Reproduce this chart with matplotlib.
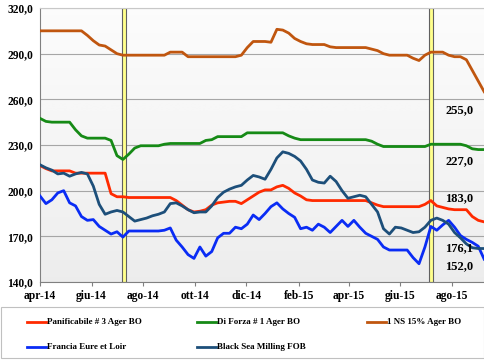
#!/usr/bin/env python
# -*- coding: utf-8 -*-

import numpy as np
import pandas as pd
import matplotlib
matplotlib.use('Agg')
import matplotlib.pyplot as plt
from matplotlib.lines import Line2D
from matplotlib.patches import Rectangle

# weekly quotes, Apr 2014 - Sep 2015 (euro/t)
dates = pd.date_range('2014-04-01', periods=76, freq='7D')

ns15 = [305, 305, 305, 305, 305, 305, 305, 305, 302, 298.5,
        295.7, 295, 292.5, 290, 289, 289, 289, 289, 289, 289,
        289, 289, 291, 291, 291, 288, 288, 288, 288, 288,
        288, 288, 288, 288, 289, 294, 298, 298, 298, 297.5,
        306, 305.5, 303.5, 300, 298, 296.5, 296, 296, 296, 294.5,
        294, 294, 294, 294, 294, 294, 293, 292, 290, 289,
        289, 289, 289, 287, 285.5, 289, 291, 291, 291, 289,
        288, 288, 286, 279, 272, 265]

forza = [247.5, 245.5, 245, 245, 245, 245, 240, 236, 234.5, 234.5,
         234.5, 234.5, 233, 223, 220.5, 224, 228, 229.5, 229.5, 229.5,
         229.5, 230.5, 231, 231, 231, 231, 231, 231, 233, 233.5,
         235.5, 235.5, 235.5, 235.5, 235.5, 238, 238, 238, 238, 238,
         238, 238, 236, 234.5, 233.5, 233.5, 233.5, 233.5, 233.5, 233.5,
         233.5, 233.5, 233.5, 233.5, 233.5, 233.5, 232.5, 230.5, 229, 229,
         229, 229, 229, 229, 229, 229, 230.5, 230.5, 230.5, 230.5,
         230.5, 230.5, 229.5, 227.5, 227, 227]

panif = [216.5, 214.5, 213, 213, 213, 213, 211.5, 211.5, 211.5, 211.5,
         211.5, 211.5, 198, 196, 196, 195.5, 195.5, 195.5, 195.5, 195.5,
         195.5, 195.5, 195.5, 193.5, 190.5, 187.5, 186, 186.5, 187.5, 190.5,
         192, 192.5, 193, 193, 191.5, 194, 196.5, 199, 200.5, 200.5,
         202.5, 203.5, 201.5, 198.5, 196.5, 194, 193.5, 193.5, 193.5, 193.5,
         193.5, 193.5, 193.5, 193.5, 193.5, 193.5, 192, 190.5, 189.5, 189.5,
         189.5, 189.5, 189.5, 189.5, 189.5, 191, 193.5, 190, 189, 188,
         187.5, 187.5, 187.5, 183, 180.5, 179.5]

francia = [196.5, 191.5, 194, 198.5, 200, 192, 190, 183, 180.5, 181,
           176.5, 174, 171.5, 173, 169.5, 173.5, 173.5, 173.5, 173.5, 173.5,
           173.5, 174, 175.5, 167.5, 163, 158, 155.5, 163, 157, 160,
           169, 172, 172, 176, 175, 178, 184, 181, 185, 189.5,
           192, 188, 185, 182.5, 175, 176, 174, 178, 176, 172.5,
           176.5, 180.5, 176.5, 180.5, 176, 172, 170, 168, 163, 161,
           161, 161, 161, 156, 152, 163, 176.5, 174, 177.5, 180.5,
           176, 170.5, 168, 166, 163.5, 155]

blacksea = [217, 215, 213.5, 211, 211.5, 209.5, 211, 212, 211, 203,
            191, 184.5, 186, 187, 186, 183, 180, 181, 182, 183.5,
            184.5, 186, 191.5, 192, 190, 187.5, 185.5, 186, 186, 190,
            195.5, 199, 201, 202.5, 203.5, 207, 210, 209, 207.5, 214,
            221.5, 225.5, 224.5, 222.5, 219.5, 214, 207, 205.5, 205, 209.5,
            206, 200, 195, 196, 197, 196, 191, 186, 175, 171.5,
            176, 175.5, 174, 172.5, 173, 176, 180.5, 182, 180.5, 178,
            172.5, 169, 165, 162.5, 162, 162]

names = ['Panificabile # 3 Ager BO', 'Di Forza # 1 Ager BO', '1 NS 15% Ager BO',
         'Francia Eure et Loir', 'Black Sea Milling FOB']
series = [panif, forza, ns15, francia, blacksea]
colors = ['#ff2a00', '#168a16', '#c0560f', '#0a2cf5', '#1d4f7a']

# harvest markers
harvest = pd.to_datetime(['2014-07-09', '2015-07-07'])

# last-value labels on the right
end_labels = ['255,0', '227,0', '183,0', '176,1', '152,0']
end_label_y = [253, 219.5, 195.3, 162.4, 150.6]

tick_dates = pd.date_range('2014-04-01', '2015-08-01', freq='2MS')
tick_labels = ['apr-14', 'giu-14', 'ago-14', 'ott-14', 'dic-14',
               'feb-15', 'apr-15', 'giu-15', 'ago-15']

plt.rcParams['font.family'] = ['Liberation Serif', 'DejaVu Serif']
plt.rcParams['font.weight'] = 'bold'

W, H = 485, 360
fig = plt.figure(figsize=(W / 100., H / 100.), dpi=100)
ax = fig.add_axes([40. / W, 1 - 282. / H, 445. / W, 274. / H])

# light gradient background: white on top, light grey at the bottom
grad = np.linspace(0.0, 1.0, 256).reshape(-1, 1)
ax.imshow(grad, cmap='Greys', vmin=-0.2, vmax=8, aspect='auto',
          extent=(0, 1, 0, 1), transform=ax.transAxes, zorder=0)

for y in range(140, 321, 30):
    ax.axhline(y, color='#a6a6a6', lw=0.8, zorder=1)

for d in harvest:
    ax.axvspan(d - pd.Timedelta(days=2.5), d + pd.Timedelta(days=2.5),
               facecolor='#ffff8c', edgecolor='#606060', lw=0.8, zorder=2)

for vals, c in zip(series, colors):
    ax.plot(dates, vals, color=c, lw=2.0, solid_joinstyle='round', zorder=3)

lab_x = pd.Timestamp('2015-07-24')
for t, y in zip(end_labels, end_label_y):
    ax.text(lab_x, y, t, fontsize=9, fontweight='bold', va='center', ha='left', zorder=4)

ax.set_xlim(pd.Timestamp('2014-04-01'), pd.Timestamp('2015-09-09'))
ax.set_ylim(140, 320)
ax.set_yticks(range(140, 321, 30))
ax.set_yticklabels([('%.1f' % v).replace('.', ',') for v in range(140, 321, 30)])
ax.set_xticks(tick_dates)
ax.set_xticklabels(tick_labels)
ax.tick_params(labelsize=8.3, length=3, color='#808080', pad=3)
ax.tick_params(axis='y', length=0, pad=5)
for s in ['left', 'bottom']:
    ax.spines[s].set_color('#808080')
ax.spines['top'].set_color('#c8c8c8')
ax.spines['right'].set_visible(False)

# legend box below the plot
fig.add_artist(Rectangle((1. / W, 1 - 358. / H), 483. / W, 51. / H,
                         transform=fig.transFigure, facecolor='white',
                         edgecolor='#c0c0c0', lw=0.8))
col_x = [27, 197, 367]
row_y = [322, 347]
for k, (name, c) in enumerate(zip(names, colors)):
    x0 = col_x[k % 3]
    y0 = row_y[k // 3]
    fig.add_artist(Line2D([x0 / W, (x0 + 19.) / W], [1 - y0 / H, 1 - y0 / H],
                          color=c, lw=2.0, transform=fig.transFigure))
    fig.text((x0 + 20.) / W, 1 - y0 / H, name, fontsize=6.5, fontweight='bold',
             va='center', ha='left')

fig.savefig('out.png', dpi=100)
